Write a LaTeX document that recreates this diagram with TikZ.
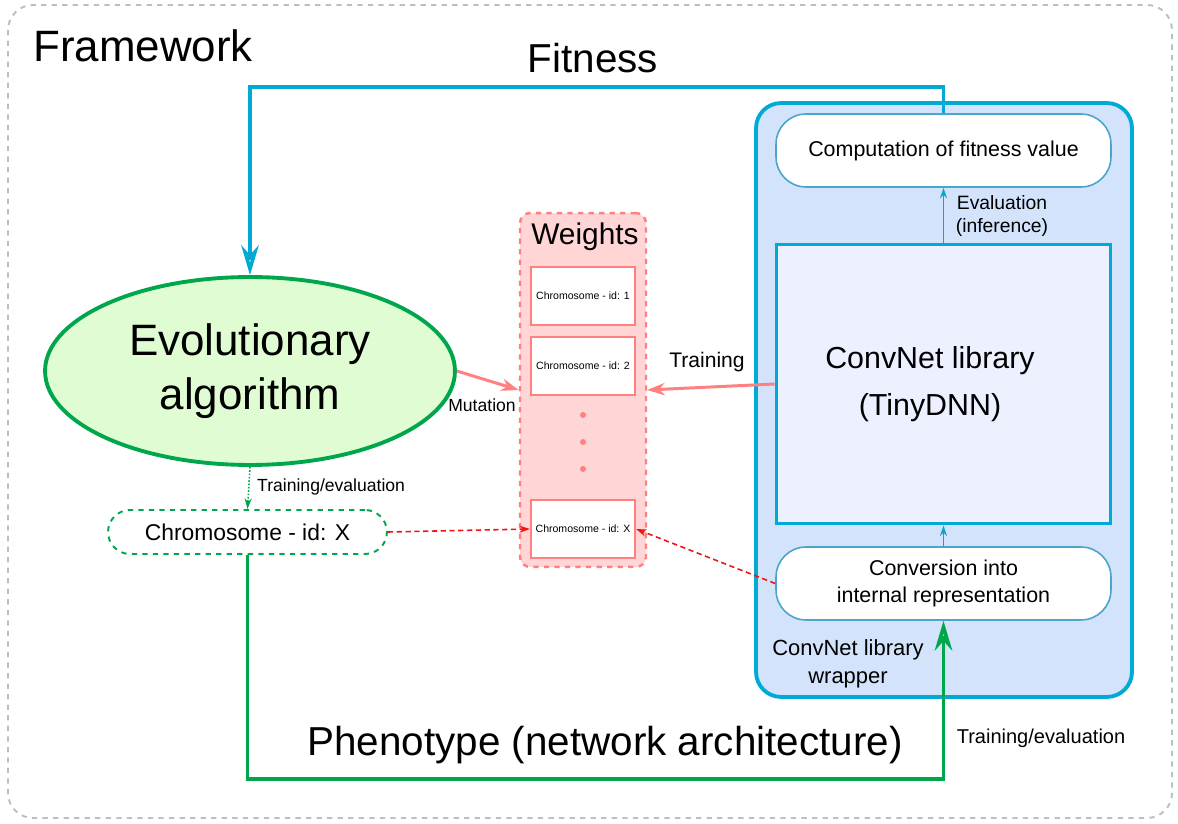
\documentclass[tikz,border=0pt]{standalone}
\usepackage{fontspec}
\setmainfont{Liberation Sans}
\usetikzlibrary{arrows.meta,shapes.geometric,positioning}
\definecolor{fwgray}{RGB}{190,190,190}
\definecolor{cvblue}{RGB}{0,170,212}
\definecolor{cvlight}{RGB}{75,165,200}
\definecolor{wrapfill}{RGB}{212,227,252}
\definecolor{netfill}{RGB}{236,240,255}
\definecolor{evogreen}{RGB}{0,166,76}
\definecolor{evofill}{RGB}{224,252,210}
\definecolor{wred}{RGB}{255,128,128}
\definecolor{wfill}{RGB}{255,213,213}
\definecolor{dotred}{RGB}{240,20,20}
\tikzset{
         bigopen/.style={-{Stealth[open,length=17pt,width=10pt]}},
         midopen/.style={-{Stealth[open,length=10pt,width=7pt]}},
         smallopen/.style={-{Stealth[open,length=6pt,width=4pt]}},
         libbox/.style={draw=cvlight,line width=0.9pt,fill=white,rounded corners=0.6cm,
                        minimum width=6.7cm,minimum height=1.46cm,align=center,font=\fontsize{12.2}{15}\selectfont},
         chrombox/.style={draw=wred,line width=1.2pt,fill=white,minimum width=2.08cm,minimum height=1.16cm,
                          inner sep=0pt,font=\fontsize{6}{7}\selectfont}
        }
\begin{document}
\begin{tikzpicture}[x=0.02cm,y=-0.02cm]
      \useasboundingbox (0,0) rectangle (1178,824);
      \draw[fwgray,line width=1.1pt,dashed,rounded corners=0.5cm] (8,5) rectangle (1172,818); % framework frame
      \node[anchor=west,font=\fontsize{25}{30}\selectfont] (fwlbl) at (27,46) {Framework};
      % ConvNet library wrapper
      \node[draw=cvblue,line width=2.2pt,fill=wrapfill,rounded corners=0.5cm,minimum width=7.52cm,minimum height=11.88cm] (wrap) at (944,400) {};
      \node[libbox] (comp) at (943.5,150.5) {Computation of fitness value};
      \node[draw=cvblue,line width=1.7pt,fill=netfill,minimum width=6.7cm,minimum height=5.6cm] (convnet) at (943.5,384) {};
      \node[align=center,font=\fontsize{17.3}{27}\selectfont] (netlbl) at (930,384) {ConvNet library\\ (TinyDNN)};
      \node[libbox] (conv) at (943.5,583.5) {Conversion into\\internal representation};
      \node[align=center,font=\fontsize{12.5}{16}\selectfont] (wraplbl) at (848,664) {ConvNet library\\wrapper};
      % evolutionary algorithm
      \node[ellipse,draw=evogreen,line width=2.2pt,fill=evofill,minimum width=8.2cm,minimum height=3.76cm,inner sep=0pt,
            align=center,font=\fontsize{25}{30.5}\selectfont] (evo) at (250,371) {Evolutionary\\algorithm};
      \node[draw=evogreen,line width=1.1pt,dashed,rounded corners=0.44cm,minimum width=5.58cm,minimum height=0.88cm,
            font=\fontsize{13}{16}\selectfont] (chromx) at (247.5,532) {Chromosome - id: X};
      % weights
      \node[draw=wred,line width=1.4pt,dashed,fill=wfill,rounded corners=0.2cm,minimum width=2.52cm,minimum height=7.08cm] (weights) at (583,390) {};
      \node[font=\fontsize{17}{20}\selectfont] (wlbl) at (585,237) {Weights};
      \node[chrombox] (w1) at (583,296) {Chromosome - id: 1};
      \node[chrombox,below=0.2cm of w1] (w2) {Chromosome - id: 2};
      \node[chrombox] (wx) at (583,529) {Chromosome - id: X};
      \foreach \y in {415,442,469}
        \fill[wred] (583,\y) circle (3);  % dots
      % fitness loop
      \coordinate (fittop) at (597,87);
      \draw[cvblue,line width=2pt,bigopen] (comp.north) |- (fittop) -| (evo.north);
      \node[font=\fontsize{23}{27}\selectfont] (fitlbl) at (593,58) {Fitness};
      % phenotype loop
      \coordinate (phenobot) at (600,779);
      \draw[evogreen,line width=2pt,bigopen] (chromx.south) |- (phenobot) -| (conv.south);
      \node[font=\fontsize{23}{27}\selectfont] (phenolbl) at (605,745) {Phenotype (network architecture)};
      \node[font=\fontsize{11.4}{13}\selectfont] (tevlbl) at (1041,738) {Training/evaluation};
      % arrows inside the wrapper
      \draw[cvblue,line width=0.9pt,smallopen] (convnet.north) -- (comp.south);
      \draw[cvblue,line width=0.9pt,smallopen] (conv.north) -- (convnet.south);
      \node[align=center,font=\fontsize{11}{13.6}\selectfont] (evallbl) at (1002,216) {Evaluation\\(inference)};
      % weights arrows
      \draw[wred,line width=1.7pt,midopen] (evo.east) -- (weights.west);
      \node[font=\fontsize{10}{12}\selectfont] (mutlbl) at (482,405) {Mutation};
      \draw[wred,line width=1.7pt,midopen] (convnet.west) -- (weights.east);
      \node[font=\fontsize{12}{14}\selectfont] (trainlbl) at (707,362) {Training};
      \draw[dotred,line width=0.9pt,densely dashed,smallopen] (chromx.east) -- (wx.west);
      \draw[dotred,line width=0.9pt,densely dashed,smallopen] (conv.west) -- (wx.east);
      \draw[evogreen,line width=0.9pt,densely dotted,smallopen] (evo.south) -- (chromx.north);
      \node[anchor=west,font=\fontsize{10}{12}\selectfont] (cevlbl) at (251,487) {Training/evaluation};
\end{tikzpicture}
\end{document}
